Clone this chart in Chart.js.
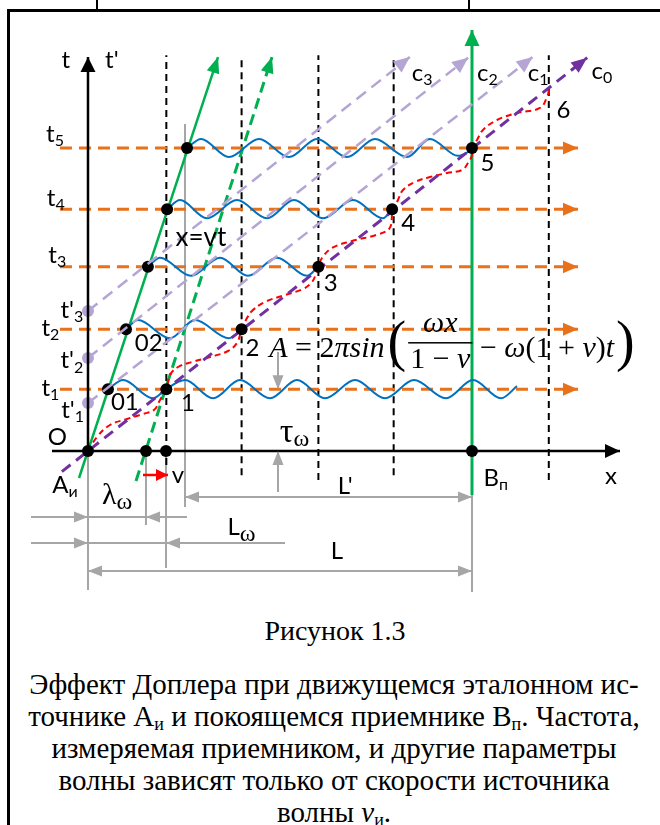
<!DOCTYPE html>
<html>
<head>
<meta charset="utf-8">
<script src="https://cdn.jsdelivr.net/npm/chart.js@4/dist/chart.umd.min.js"></script>
<style>
  body { margin: 0; background: #fff; }
  #page { position: relative; width: 660px; height: 825px; overflow: hidden; }
  #plot { position: absolute; left: 0; top: 0; }
  .frame-l { position: absolute; left: 7px; top: 9px; width: 3px; height: 820px; background: #000; }
  .frame-t { position: absolute; left: 7px; top: 9px; width: 660px; height: 3px; background: #000; }
  .tick { position: absolute; top: 0; width: 2px; height: 10px; background: #000; }
  #cap-title { position: absolute; left: 10px; width: 650px; top: 613px; text-align: center;
    font: 28px/36px "Liberation Serif", serif; color: #000; }
  #cap-text { position: absolute; left: 8px; width: 652px; top: 668px; text-align: center;
    font: 29px/32px "Liberation Serif", serif; color: #000; }
  #cap-text sub { font-size: 18px; line-height: 0; vertical-align: -4px; }
</style>
</head>
<body>
<div id="page">
  <div class="frame-t"></div>
  <div class="frame-l"></div>
  <div class="tick" style="left:96px"></div>
  <div class="tick" style="left:468px"></div>
  <canvas id="plot" width="660" height="600"></canvas>
  <div id="cap-title">Рисунок 1.3</div>
  <div id="cap-text">Эффект Доплера при движущемся эталонном ис-<br>точнике A<sub>и</sub> и покоящемся приемнике B<sub>п</sub>. Частота,<br>измеряемая приемником, и другие параметры<br>волны зависят только от скорости источника<br>волны <i>v</i><sub>и</sub>.</div>
</div>
<script>
// x - distance, t - time, light speed c = 1
const tLevels = [1.02, 2.01, 3.04, 3.99, 5.0];
const gridX = [1.02, 2.0, 3.0, 3.98, 6.0];
const gridBottom = [-0.23, -0.40, -0.48, -0.40, -0.48];
const gridTop = 6.53;

const sourceDots = [[0.26, 1.02], [0.495, 2.01], [0.78, 3.04], [1.03, 3.99], [1.29, 5.0]];
const meetDots = [[1.02, 1.02], [2.0, 2.01], [3.0, 3.04], [3.96, 3.99], [5.0, 5.0]];
const axisDots = [[0, 0], [0.755, 0], [1.016, 0], [5.0, 0]];
const primeDots = [[0, 0.79], [0, 1.535], [0, 2.31]];

const sourceLine = [[-0.117, -0.446], [1.693, 6.5]];
const sourceLine2 = [[0.625, -0.495], [2.396, 6.5]];
const receiverLine = [[5.0, -0.726], [5.0, 6.947]];
const rayC0 = [[-0.34, -0.34], [6.5, 6.49]];
const raysC = [
  [[0, 0.79], [5.79, 6.5]],
  [[0, 1.535], [4.95, 6.49]],
  [[0, 2.31], [4.19, 6.5]]
];
const xAxisLine = [[-0.469, 0], [6.927, 0]];
const tAxisLine = [[0, 0], [0, 6.5]];
const levelStart = -0.365, levelEnd = 6.38;

const wave1 = [[0.26, 1.02], [0.456, 1.17], [0.846, 0.87], [1.016, 1.02], [1.263, 1.17], [1.628, 0.87],
  [1.979, 1.17], [2.37, 0.87], [2.721, 1.17], [3.086, 0.87], [3.477, 1.17], [3.867, 0.87],
  [4.245, 1.17], [4.661, 0.87], [5.013, 1.17], [5.378, 0.87], [5.586, 1.07]];
const wave2 = [[0.495, 2.01], [0.651, 2.16], [1.068, 1.86], [1.393, 2.16], [1.836, 1.86], [2.005, 2.01]];
const wave3 = [[0.781, 3.04], [0.938, 3.19], [1.341, 2.89], [1.719, 3.19], [2.083, 2.89], [2.461, 3.19],
  [2.852, 2.89], [2.995, 3.04]];
const wave4 = [[1.029, 3.99], [1.198, 4.14], [1.549, 3.84], [1.94, 4.14], [2.331, 3.84], [2.682, 4.14],
  [3.06, 3.84], [3.451, 4.14], [3.841, 3.84], [3.96, 3.99]];
const wave5 = [[1.289, 5.0], [1.471, 5.15], [1.836, 4.85], [2.227, 5.15], [2.617, 4.85], [2.982, 5.15],
  [3.372, 4.85], [3.737, 5.15], [4.154, 4.85], [4.453, 5.15], [4.818, 4.87], [5.0, 4.97]];

const redPath = [[0, 0], [0.117, 0.231], [0.286, 0.429], [0.508, 0.528], [0.716, 0.611], [0.859, 0.677],
  [0.938, 0.842], [0.99, 0.974], [1.02, 1.02], [1.068, 1.254], [1.172, 1.386], [1.354, 1.469],
  [1.589, 1.551], [1.823, 1.65], [1.94, 1.782], [1.979, 1.914], [2.0, 2.01], [2.057, 2.162],
  [2.135, 2.31], [2.305, 2.459], [2.565, 2.574], [2.799, 2.673], [2.917, 2.789], [2.969, 2.921],
  [3.0, 3.04], [3.047, 3.185], [3.177, 3.35], [3.438, 3.465], [3.75, 3.564], [3.92, 3.663],
  [3.955, 3.82], [3.96, 3.99], [3.997, 4.026], [4.036, 4.142], [4.102, 4.307], [4.258, 4.439],
  [4.453, 4.521], [4.674, 4.587], [4.87, 4.637], [4.948, 4.752], [5.0, 4.884], [5.0, 5.0],
  [5.065, 5.132], [5.143, 5.297], [5.326, 5.462], [5.586, 5.578], [5.885, 5.66], [5.977, 5.842],
  [6.016, 6.007]];

// gray dimension lines
const dimVertical = [[1.263, 5.396, -0.924], [0, 0, -2.294], [0.755, 0, -1.221], [1.016, 0, -1.931], [5.0, 0, -2.327]];
const tauX = 2.474;
const tauUpper = [1.634, 1.02];
const tauLower = [-0.677, 0];
const lPrime = [-0.759, 1.263, 5.0];
const lambdaRow = [-1.089, -0.742, 0, 0.755, 1.289];
const lOmegaRow = [-1.518, -0.742, 0, 1.016, 2.565];
const lRow = [-1.98, 0, 5.0];
const vArrow = [-0.396, 0.716, 1.042];

const labels = [
  { text: 't', x: -0.29, y: 6.44 },
  { text: "t'", x: 0.31, y: 6.44 },
  { text: 't', sub: '5', x: -0.43, y: 5.23 },
  { text: 't', sub: '4', x: -0.42, y: 4.17 },
  { text: 't', sub: '3', x: -0.40, y: 3.23 },
  { text: 't', sub: '2', x: -0.49, y: 2.03 },
  { text: 't', sub: '1', x: -0.49, y: 1.04 },
  { text: "t'", sub: '3', x: -0.21, y: 2.33 },
  { text: "t'", sub: '2', x: -0.21, y: 1.49 },
  { text: "t'", sub: '1', x: -0.20, y: 0.68 },
  { text: 'O', x: -0.40, y: 0.23 },
  { text: 'A', sub: 'и', x: -0.30, y: -0.56 },
  { text: '01', x: 0.48, y: 0.81 },
  { text: '02', x: 0.79, y: 1.77 },
  { text: '1', x: 1.30, y: 0.78 },
  { text: '2', x: 2.14, y: 1.70 },
  { text: '3', x: 3.16, y: 2.77 },
  { text: '4', x: 4.17, y: 3.76 },
  { text: '5', x: 5.20, y: 4.74 },
  { text: '6', x: 6.19, y: 5.63 },
  { text: 'c', sub: '3', x: 4.35, y: 6.24 },
  { text: 'c', sub: '2', x: 5.20, y: 6.24 },
  { text: 'c', sub: '1', x: 5.86, y: 6.24 },
  { text: 'c', sub: '0', x: 6.69, y: 6.27 },
  { text: 'x', x: 6.81, y: -0.41 },
  { text: 'B', sub: 'п', x: 5.31, y: -0.45 },
  { text: 'v', x: 1.17, y: -0.40 },
  { text: 'x=vt', x: 1.47, y: 3.52, size: 26 },
  { text: 'τ', sub: 'ω', x: 2.69, y: 0.30, greek: true, size: 34 },
  { text: 'λ', sub: 'ω', x: 0.38, y: -0.74, greek: true, size: 30 },
  { text: 'L', sub: 'ω', x: 2.0, y: -1.26, subGreek: true },
  { text: "L'", x: 3.35, y: -0.59 },
  { text: 'L', x: 3.24, y: -1.65 }
];
const formulaAnchor = [2.36, 1.55];

const C = {
  orange: '#e8711a', green: '#00b050', lav: '#b4a5d5', purple: '#7030a0',
  red: '#ff0000', blue: '#0070c0', gray: '#a6a6a6', black: '#000000'
};

const datasets = [];
function addLine(points, style) {
  datasets.push(Object.assign({
    data: points.map(([x, y]) => ({ x, y })),
    showLine: true, pointRadius: 0, pointHoverRadius: 0, borderWidth: 2,
    fill: false, clip: false, tension: 0
  }, style));
}
function addDots(points, color, r) {
  datasets.push({
    data: points.map(([x, y]) => ({ x, y })),
    showLine: false, pointRadius: r, pointHoverRadius: r, pointBackgroundColor: color,
    pointBorderWidth: 0, borderColor: color, clip: false
  });
}
const grayArrow = { len: 14, wid: 11 };

// gray dimension lines
dimVertical.forEach(([x, a, b]) => addLine([[x, a], [x, b]], { borderColor: C.gray, borderWidth: 2 }));
addLine([[tauX, tauUpper[0]], [tauX, tauUpper[1]]], { borderColor: C.gray, borderWidth: 2, arrow: Object.assign({ end: true }, grayArrow) });
addLine([[tauX, tauLower[0]], [tauX, tauLower[1]]], { borderColor: C.gray, borderWidth: 2, arrow: Object.assign({ end: true }, grayArrow) });
addLine([[lPrime[1], lPrime[0]], [lPrime[2], lPrime[0]]], { borderColor: C.gray, borderWidth: 2, arrow: Object.assign({ end: true, start: true }, grayArrow) });
[lambdaRow, lOmegaRow].forEach(r => {
  addLine([[r[1], r[0]], [r[2], r[0]]], { borderColor: C.gray, borderWidth: 2, arrow: Object.assign({ end: true }, grayArrow) });
  addLine([[r[2], r[0]], [r[3], r[0]]], { borderColor: C.gray, borderWidth: 2 });
  addLine([[r[4], r[0]], [r[3], r[0]]], { borderColor: C.gray, borderWidth: 2, arrow: Object.assign({ end: true }, grayArrow) });
});
addLine([[lRow[1], lRow[0]], [lRow[2], lRow[0]]], { borderColor: C.gray, borderWidth: 2, arrow: Object.assign({ end: true, start: true }, grayArrow) });

// vertical grid
gridX.forEach((x, i) => addLine([[x, gridBottom[i]], [x, gridTop]], { borderColor: C.black, borderWidth: 2, borderDash: [7, 5] }));

// time levels
tLevels.forEach(t => addLine([[levelStart, t], [levelEnd, t]], {
  borderColor: C.orange, borderWidth: 3, borderDash: [12, 7], arrow: { end: true, len: 15, wid: 13 }
}));

// green world lines
addLine(sourceLine, { borderColor: C.green, borderWidth: 2.5, arrow: { end: true, len: 16, wid: 13 } });
addLine(sourceLine2, { borderColor: C.green, borderWidth: 3, borderDash: [11, 6], arrow: { end: true, len: 16, wid: 13 } });
addLine(receiverLine, { borderColor: C.green, borderWidth: 3, arrow: { end: true, len: 16, wid: 15 } });

// waves
[wave1, wave2, wave3, wave4, wave5].forEach(w => addLine(w, { borderColor: C.blue, borderWidth: 2, cubicInterpolationMode: 'monotone' }));

// red path and c0
addLine(redPath, { borderColor: C.red, borderWidth: 2, borderDash: [6, 4], tension: 0.4 });
addLine(rayC0, { borderColor: C.purple, borderWidth: 3, borderDash: [11, 7], arrow: { end: true, len: 16, wid: 13 } });

addDots(sourceDots, C.black, 6);

// light rays c1..c3
raysC.forEach(r => addLine(r, { borderColor: C.lav, borderWidth: 2.5, borderDash: [12, 7], arrow: { end: true, len: 16, wid: 14 } }));
addDots(primeDots, C.lav, 6);
addDots(meetDots, C.black, 6);
addDots(axisDots, C.black, 6);

// axes and v arrow
addLine(xAxisLine, { borderColor: C.black, borderWidth: 2.5, arrow: { end: true, len: 15, wid: 14 } });
addLine(tAxisLine, { borderColor: C.black, borderWidth: 2.5, arrow: { end: true, len: 15, wid: 15 } });
addLine([[vArrow[1], vArrow[0]], [vArrow[2], vArrow[0]]], { borderColor: C.red, borderWidth: 2.5, arrow: { end: true, len: 12, wid: 12 } });

datasets.forEach((ds, i) => { ds.order = -i; });

function drawHead(ctx, from, tip, a, color) {
  const ang = Math.atan2(tip[1] - from[1], tip[0] - from[0]);
  ctx.save();
  ctx.translate(tip[0], tip[1]);
  ctx.rotate(ang);
  ctx.beginPath();
  ctx.moveTo(0, 0);
  ctx.lineTo(-a.len, -a.wid / 2);
  ctx.lineTo(-a.len, a.wid / 2);
  ctx.closePath();
  ctx.fillStyle = color;
  ctx.fill();
  ctx.restore();
}

const arrowPlugin = {
  id: 'arrows',
  afterDatasetsDraw(chart) {
    const ctx = chart.ctx, xs = chart.scales.x, ys = chart.scales.y;
    chart.data.datasets.forEach(ds => {
      if (!ds.arrow) return;
      const p = ds.data.map(d => [xs.getPixelForValue(d.x), ys.getPixelForValue(d.y)]);
      if (ds.arrow.end) drawHead(ctx, p[p.length - 2], p[p.length - 1], ds.arrow, ds.borderColor);
      if (ds.arrow.start) drawHead(ctx, p[1], p[0], ds.arrow, ds.borderColor);
    });
  }
};

const SANS = 'Lato, "Open Sans", "DejaVu Sans", sans-serif';
const SERIF = '"Liberation Serif", "DejaVu Serif", serif';

function drawFormula(ctx, x0, base) {
  const it = 'italic 30px ' + SERIF, up = '30px ' + SERIF;
  let x = x0;
  const put = (s, f, dy) => { ctx.font = f; ctx.fillText(s, x, base + (dy || 0)); x += ctx.measureText(s).width; };
  put('A', it); put(' = ', up); put('2', up); put('πsin', it);
  x += 3;
  put('(', '56px ' + SERIF, 3);
  x += 2;
  ctx.font = it; const wn = ctx.measureText('ωx').width;
  ctx.font = up; const wd1 = ctx.measureText('1 − ').width;
  ctx.font = it; const wd2 = ctx.measureText('v').width;
  const wf = Math.max(wn, wd1 + wd2) + 4;
  ctx.font = it; ctx.fillText('ωx', x + (wf - wn) / 2, base - 25);
  const dx = x + (wf - wd1 - wd2) / 2;
  ctx.font = up; ctx.fillText('1 − ', dx, base + 11);
  ctx.font = it; ctx.fillText('v', dx + wd1, base + 11);
  ctx.fillRect(x, base - 15, wf, 1.5);
  x += wf;
  put(' − ', up); put('ω', it); put('(1 + ', up); put('v', it); put(')', up); put('t', it);
  x += 2;
  put(')', '56px ' + SERIF, 3);
}

const labelPlugin = {
  id: 'labels',
  afterDraw(chart) {
    const ctx = chart.ctx, xs = chart.scales.x, ys = chart.scales.y;
    ctx.save();
    ctx.fillStyle = '#000';
    ctx.textBaseline = 'middle';
    ctx.textAlign = 'left';
    labels.forEach(l => {
      const size = l.size || 24;
      const mainFont = l.greek ? size + 'px ' + SERIF : size + 'px ' + SANS;
      const subFont = (l.greek || l.subGreek) ? '24px ' + SERIF : '16px ' + SANS;
      ctx.font = mainFont;
      const w1 = ctx.measureText(l.text).width;
      ctx.font = subFont;
      const w2 = l.sub ? ctx.measureText(l.sub).width : 0;
      const px = xs.getPixelForValue(l.x) - (w1 + w2) / 2;
      const py = ys.getPixelForValue(l.y);
      ctx.font = mainFont;
      ctx.fillText(l.text, px, py);
      if (l.sub) { ctx.font = subFont; ctx.fillText(l.sub, px + w1, py + 7); }
    });
    ctx.textBaseline = 'alphabetic';
    drawFormula(ctx, xs.getPixelForValue(formulaAnchor[0]), ys.getPixelForValue(formulaAnchor[1]));
    ctx.restore();
  }
};

new Chart(document.getElementById('plot'), {
  type: 'scatter',
  data: { datasets },
  options: {
    responsive: false,
    animation: false,
    events: [],
    layout: { padding: 0, autoPadding: false },
    plugins: { legend: { display: false }, tooltip: { enabled: false }, title: { display: false } },
    scales: {
      x: { type: 'linear', min: -1.1458, max: 7.448, display: false },
      y: { type: 'linear', min: -2.459, max: 7.442, display: false }
    }
  },
  plugins: [arrowPlugin, labelPlugin]
});
</script>
</body>
</html>
